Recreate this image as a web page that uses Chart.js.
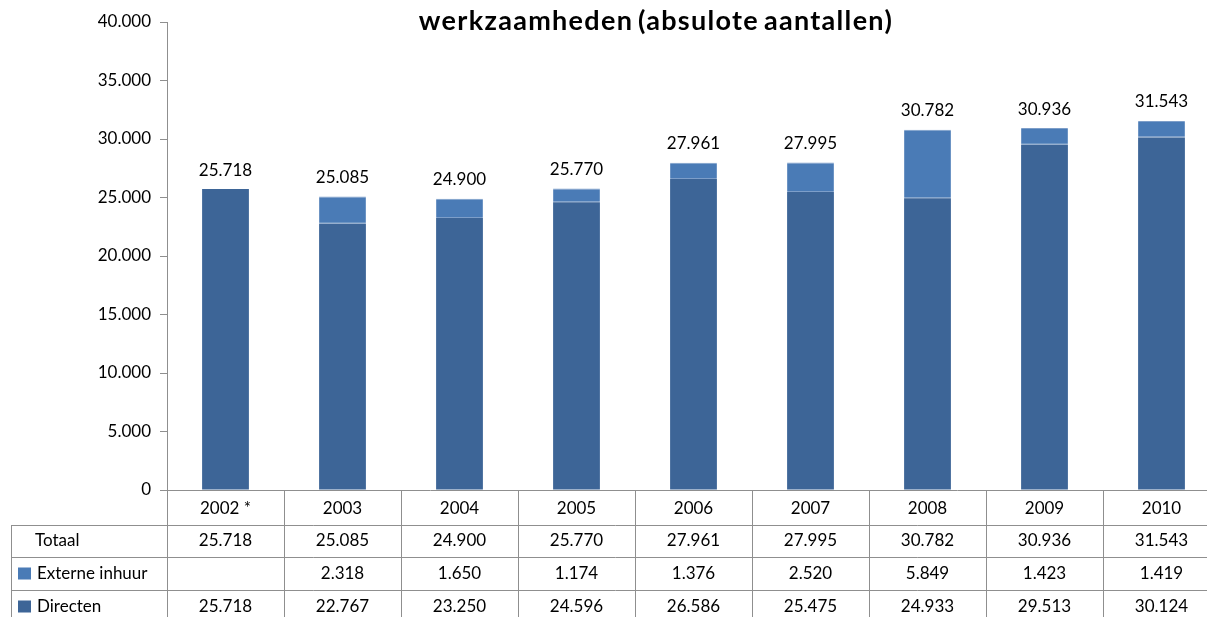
<!DOCTYPE html>
<html>
<head>
<meta charset="utf-8">
<script src="https://cdn.jsdelivr.net/npm/chart.js@4.4.0/dist/chart.umd.min.js"></script>
<style>
  html, body { margin: 0; padding: 0; background: #fff; overflow: hidden; }
  #wrap { width: 1207px; height: 617px; overflow: hidden; }
  #box { width: 1220px; height: 617px; }
</style>
</head>
<body>
<div id="wrap"><div id="box"><canvas id="chart"></canvas></div></div>
<script>
const years = ["2002 *", "2003", "2004", "2005", "2006", "2007", "2008", "2009", "2010"];
const totaal = [25718, 25085, 24900, 25770, 27961, 27995, 30782, 30936, 31543];
const externeInhuur = [null, 2318, 1650, 1174, 1376, 2520, 5849, 1423, 1419];
const directen = [25718, 22767, 23250, 24596, 26586, 25475, 24933, 29513, 30124];

const darkBlue = "#3d6597";
const lightBlue = "#4a7bb6";
const lineGray = "#8f8f8f";
const font = "Lato, 'Open Sans', sans-serif";

function fmt(v) {
  if (v === null || v === undefined) return "";
  return String(v).replace(/\B(?=(\d{3})+(?!\d))/g, ".");
}

// totals above the bars, title, and the data table under the axis
const extras = {
  id: "extras",
  afterDatasetsDraw(chart) {
    const ctx = chart.ctx;
    const x = chart.scales.x;
    const y = chart.scales.y;
    ctx.save();
    ctx.fillStyle = "#000";
    ctx.font = "17px " + font;
    ctx.textAlign = "center";
    ctx.textBaseline = "middle";
    totaal.forEach((t, i) => {
      ctx.fillText(fmt(t), x.getPixelForValue(i), y.getPixelForValue(t) - 19);
    });

    ctx.font = "bold 27px " + font;
    ctx.wordSpacing = "-3px";
    ctx.letterSpacing = "1.3px";
    ctx.fillText("werkzaamheden (absulote aantallen)", 656, 21);
    ctx.wordSpacing = "0px";
    ctx.letterSpacing = "0px";
    ctx.restore();
  },
  afterDraw(chart) {
    const ctx = chart.ctx;
    const area = chart.chartArea;
    const x = chart.scales.x;
    const step = (area.right - area.left) / years.length;
    const rows = [525, 557, 590];
    const bottom = chart.height;
    ctx.save();
    ctx.strokeStyle = lineGray;
    ctx.lineWidth = 1;
    ctx.beginPath();
    rows.forEach((r) => {
      ctx.moveTo(11, r + 0.5);
      ctx.lineTo(area.right, r + 0.5);
    });
    ctx.moveTo(11.5, rows[0]);
    ctx.lineTo(11.5, bottom);
    for (let i = 0; i <= years.length; i++) {
      const px = Math.round(area.left + i * step) + 0.5;
      ctx.moveTo(px, area.bottom);
      ctx.lineTo(px, bottom);
    }
    ctx.stroke();

    ctx.fillStyle = "#000";
    ctx.font = "17px " + font;
    ctx.textBaseline = "middle";
    const tableRows = [
      { label: "Totaal", data: totaal, color: null },
      { label: "Externe inhuur", data: externeInhuur, color: lightBlue },
      { label: "Directen", data: directen, color: darkBlue },
    ];
    tableRows.forEach((row, r) => {
      const top = rows[r];
      const next = r < 2 ? rows[r + 1] : top + 33;
      const cy = (top + next) / 2;
      if (row.color) {
        ctx.fillStyle = row.color;
        ctx.fillRect(18, cy - 6, 13, 12);
      }
      ctx.fillStyle = "#000";
      ctx.textAlign = "left";
      ctx.fillText(row.label, row.color ? 37 : 35, cy);
      ctx.textAlign = "center";
      row.data.forEach((v, i) => {
        ctx.fillText(fmt(v), x.getPixelForValue(i), cy);
      });
    });
    ctx.restore();
  },
};

new Chart(document.getElementById("chart"), {
  type: "bar",
  data: {
    labels: years,
    datasets: [
      {
        label: "Directen",
        data: directen,
        backgroundColor: darkBlue,
        borderWidth: 0,
        categoryPercentage: 1,
        barPercentage: 0.4,
      },
      {
        label: "Externe inhuur",
        data: externeInhuur,
        backgroundColor: lightBlue,
        borderColor: "#7d9ec9",
        borderWidth: { top: 1, bottom: 1 },
        borderSkipped: false,
        categoryPercentage: 1,
        barPercentage: 0.4,
      },
    ],
  },
  options: {
    responsive: true,
    maintainAspectRatio: false,
    animation: false,
    layout: { padding: { top: 22, right: 0, bottom: 92, left: 0 } },
    plugins: {
      legend: { display: false },
      title: { display: false },
      tooltip: { enabled: false },
    },
    scales: {
      x: {
        stacked: true,
        grid: { display: false, drawTicks: false },
        border: { display: true, color: lineGray },
        ticks: {
          color: "#000",
          font: { family: font, size: 17 },
          padding: 8,
          maxRotation: 0,
        },
        afterFit(scale) {
          scale.height = 35;
        },
      },
      y: {
        stacked: true,
        min: 0,
        max: 40000,
        grid: { drawOnChartArea: false, tickLength: 7, color: lineGray },
        border: { display: true, color: lineGray },
        ticks: {
          stepSize: 5000,
          color: "#000",
          font: { family: font, size: 17 },
          padding: 9,
          callback: (v) => fmt(v),
        },
        afterFit(scale) {
          scale.width = 167;
        },
      },
    },
  },
  plugins: [extras],
});
</script>
</body>
</html>
